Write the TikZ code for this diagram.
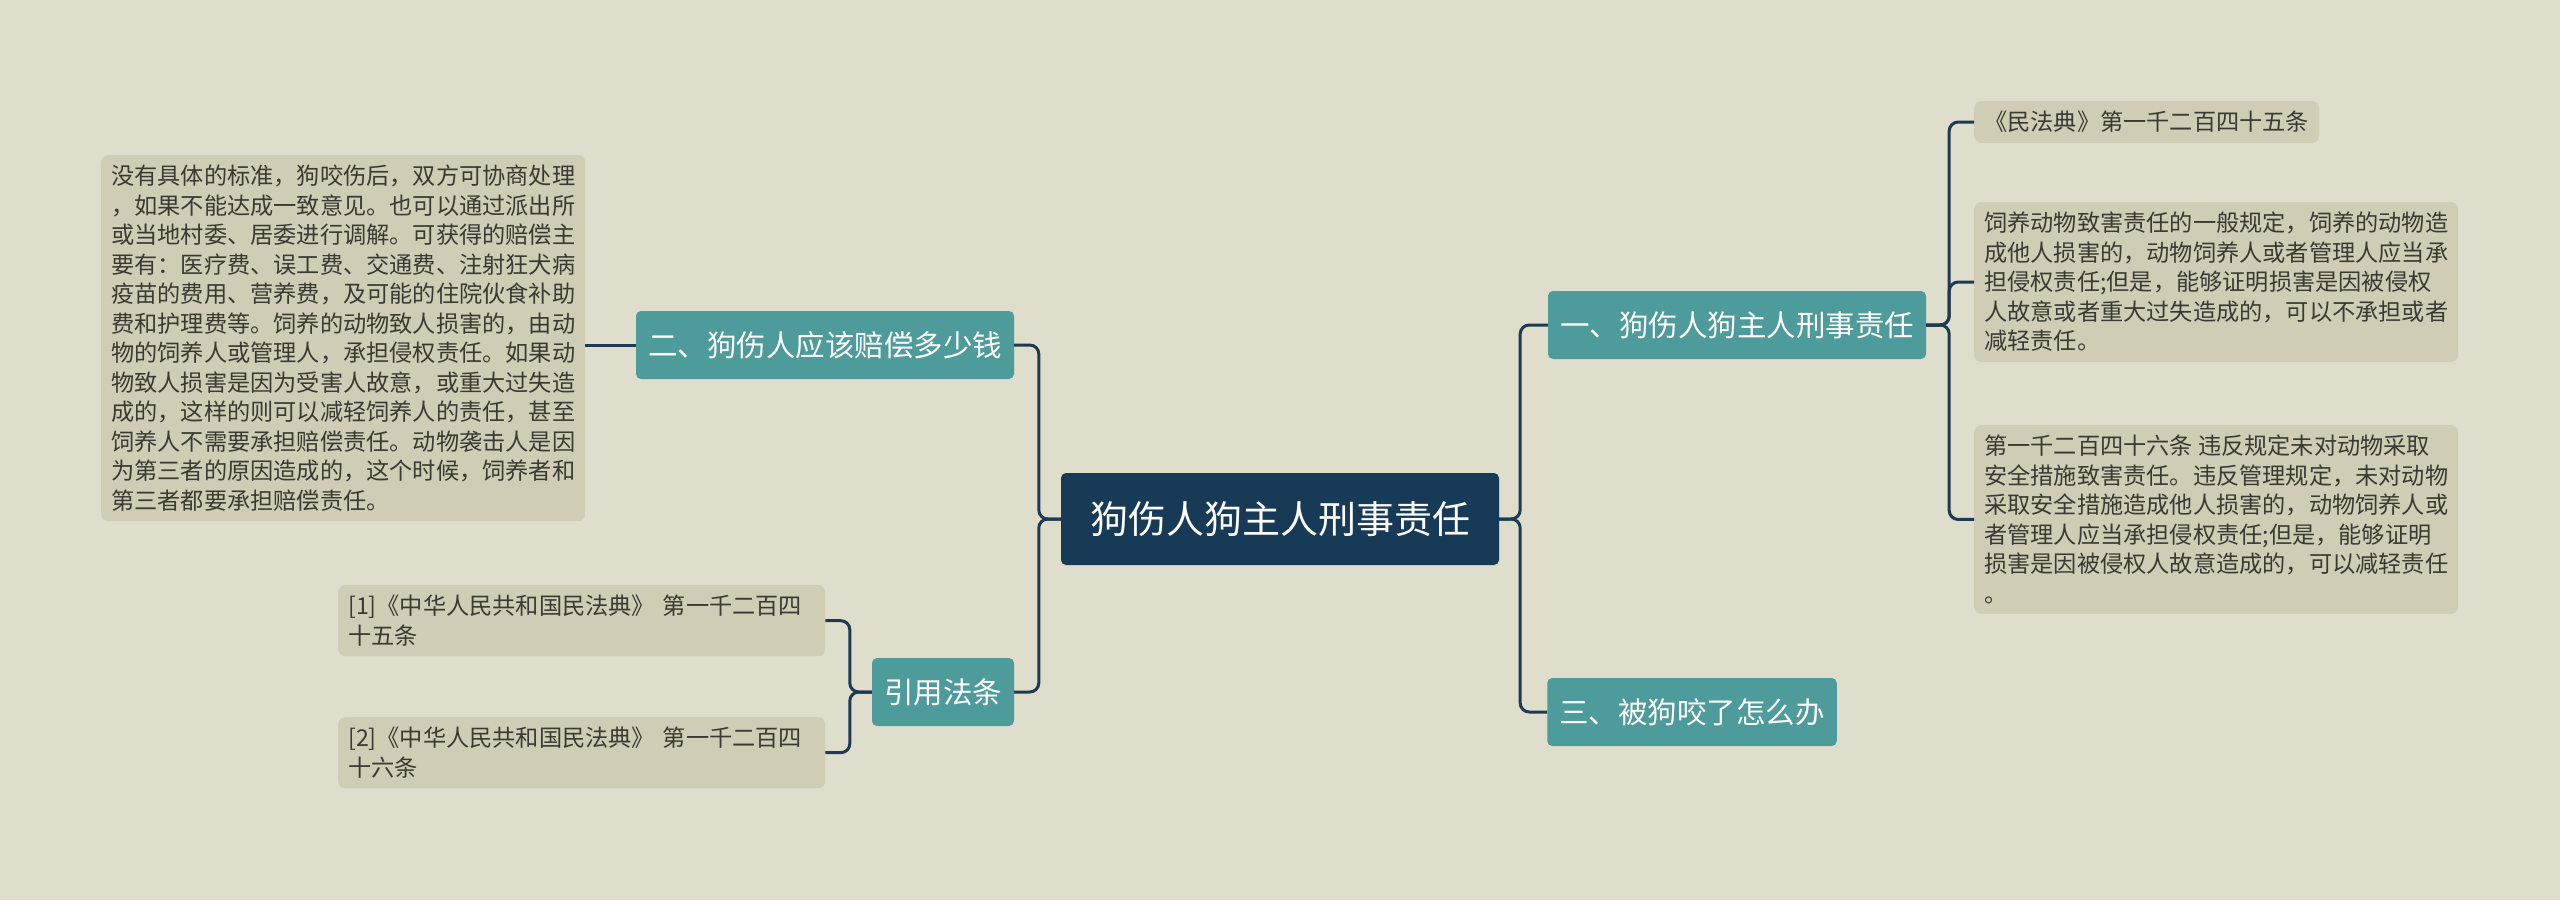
\documentclass[tikz,border=0pt]{standalone}
\usepackage{fontspec}
\setmainfont{Noto Sans CJK SC}
\usetikzlibrary{positioning}
\definecolor{bgcol}{HTML}{DFDDCC}
\definecolor{leafcol}{HTML}{CFCDB6}
\definecolor{branchcol}{HTML}{4E9B9B}
\definecolor{rootcol}{HTML}{173A57}
\definecolor{linecol}{HTML}{1E3A52}
\definecolor{txtcol}{HTML}{3A3A30}
\tikzset{x=1pt,y=-1pt,
  rootnode/.style={fill=rootcol,text=white,rounded corners=5pt,minimum width=438pt,
    minimum height=92pt,font=\fontsize{38}{44}\selectfont},
  branch/.style={fill=branchcol,text=white,rounded corners=5pt,minimum height=68pt,
    inner xsep=12pt,font=\fontsize{29.5}{34}\selectfont},
  leaf/.style={fill=leafcol,text=txtcol,rounded corners=7pt,align=left,
    inner xsep=10pt,inner ysep=10pt,font=\fontsize{23.2}{29.5}\selectfont},
  link/.style={draw=linecol,line width=3pt,rounded corners=9pt}}
\begin{document}
\begin{tikzpicture}
  \fill[bgcol] (0,0) rectangle (2560,900);
  \useasboundingbox (0,0) rectangle (2560,900);
  % root and branches
  \node[rootnode] (root) at (1280,519) {狗伤人狗主人刑事责任};
  \node[branch] (liab) at (1737,325) {一、狗伤人狗主人刑事责任};
  \node[branch] (bite) at (1692,712) {三、被狗咬了怎么办};
  \node[branch] (comp) at (825,345) {二、狗伤人应该赔偿多少钱};
  \node[branch] (cite) at (943,692) {引用法条};
  % leaves
  \node[leaf,anchor=north west] (ctext) at (101,155) {没有具体的标准，狗咬伤后，双方可协商处理\\，如果不能达成一致意见。也可以通过派出所\\或当地村委、居委进行调解。可获得的赔偿主\\要有：医疗费、误工费、交通费、注射狂犬病\\疫苗的费用、营养费，及可能的住院伙食补助\\费和护理费等。饲养的动物致人损害的，由动\\物的饲养人或管理人，承担侵权责任。如果动\\物致人损害是因为受害人故意，或重大过失造\\成的，这样的则可以减轻饲养人的责任，甚至\\饲养人不需要承担赔偿责任。动物袭击人是因\\为第三者的原因造成的，这个时候，饲养者和\\第三者都要承担赔偿责任。};
  \node[leaf,anchor=north west,text width=467pt] (refa) at (338,585) {[1]《中华人民共和国民法典》 第一千二百四\\十五条};
  \node[leaf,anchor=north west,text width=467pt] (refb) at (338,717) {[2]《中华人民共和国民法典》 第一千二百四\\十六条};
  \node[leaf,anchor=north west] (lawa) at (1974,101) {《民法典》第一千二百四十五条};
  \node[leaf,anchor=north west] (lawb) at (1974,202) {饲养动物致害责任的一般规定，饲养的动物造\\成他人损害的，动物饲养人或者管理人应当承\\担侵权责任;但是，能够证明损害是因被侵权\\人故意或者重大过失造成的，可以不承担或者\\减轻责任。};
  \node[leaf,anchor=north west] (lawc) at (1974,425) {第一千二百四十六条 违反规定未对动物采取\\安全措施致害责任。违反管理规定，未对动物\\采取安全措施造成他人损害的，动物饲养人或\\者管理人应当承担侵权责任;但是，能够证明\\损害是因被侵权人故意造成的，可以减轻责任\\。};
  % connectors
  \foreach \b in {liab,bite}
    \draw[link] (root.east) -- ++(21,0) |- (\b.west);
  \foreach \b in {comp,cite}
    \draw[link] (root.west) -- ++(-22,0) |- (\b.east);
  \foreach \l in {lawa,lawb,lawc}
    \draw[link] (liab.east) -- ++(23,0) |- (\l.west);
  \foreach \l in {refa,refb}
    \draw[link] (cite.west) -- ++(-22,0) |- (\l.east);
  \draw[link] (comp.west) -- (ctext.east |- comp.west);
\end{tikzpicture}
\end{document}
